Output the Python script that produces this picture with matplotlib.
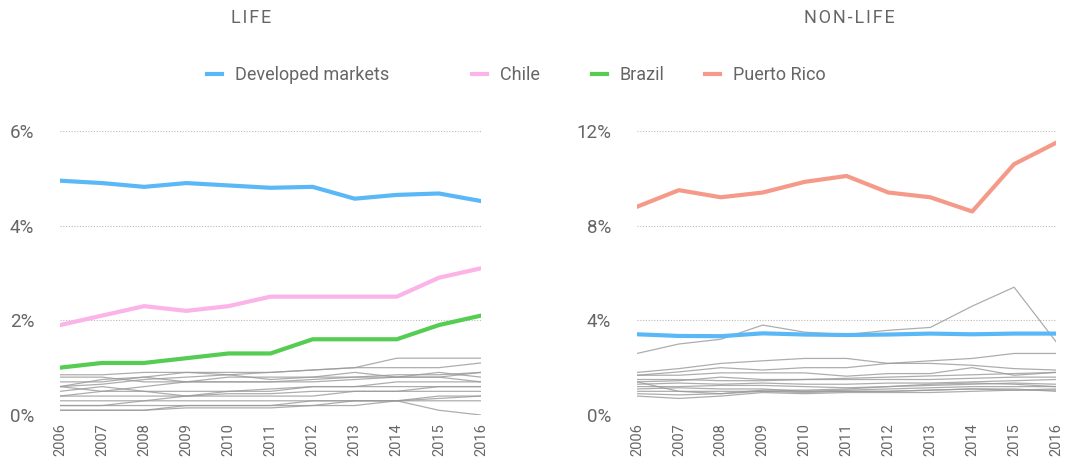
import matplotlib.pyplot as plt

plt.rcParams['font.family'] = ['Roboto', 'DejaVu Sans']

years = list(range(2006, 2017))

# life, % of GDP
developed_life = [4.95, 4.9, 4.82, 4.9, 4.85, 4.8, 4.82, 4.57, 4.65, 4.68, 4.52]
chile_life = [1.9, 2.1, 2.3, 2.2, 2.3, 2.5, 2.5, 2.5, 2.5, 2.9, 3.1]
brazil_life = [1.0, 1.1, 1.1, 1.2, 1.3, 1.3, 1.6, 1.6, 1.6, 1.9, 2.1]

other_life = [
    [0.85, 0.85, 0.9, 0.9, 0.9, 0.9, 0.95, 1.0, 1.2, 1.2, 1.2],
    [0.6, 0.65, 0.75, 0.8, 0.85, 0.9, 0.95, 1.0, 1.0, 1.0, 1.1],
    [0.6, 0.75, 0.8, 0.9, 0.85, 0.75, 0.8, 0.9, 0.8, 0.9, 0.8],
    [0.7, 0.7, 0.8, 0.7, 0.7, 0.7, 0.75, 0.8, 0.85, 0.85, 0.9],
    [0.8, 0.8, 0.7, 0.7, 0.8, 0.8, 0.8, 0.8, 0.8, 0.8, 0.7],
    [0.4, 0.5, 0.6, 0.7, 0.7, 0.7, 0.7, 0.75, 0.8, 0.8, 0.9],
    [0.5, 0.6, 0.5, 0.4, 0.5, 0.5, 0.6, 0.6, 0.7, 0.7, 0.7],
    [0.6, 0.5, 0.5, 0.5, 0.5, 0.55, 0.6, 0.6, 0.6, 0.6, 0.6],
    [0.3, 0.3, 0.3, 0.4, 0.4, 0.4, 0.4, 0.5, 0.5, 0.6, 0.6],
    [0.2, 0.2, 0.3, 0.3, 0.3, 0.3, 0.3, 0.3, 0.3, 0.4, 0.4],
    [0.2, 0.2, 0.2, 0.2, 0.2, 0.2, 0.3, 0.3, 0.3, 0.1, 0.0],
    [0.1, 0.1, 0.1, 0.2, 0.2, 0.2, 0.2, 0.3, 0.3, 0.3, 0.3],
    [0.1, 0.1, 0.1, 0.15, 0.15, 0.15, 0.2, 0.2, 0.3, 0.35, 0.4],
    [0.4, 0.4, 0.4, 0.4, 0.45, 0.45, 0.5, 0.5, 0.5, 0.5, 0.5],
]

# non-life, % of GDP
developed_nonlife = [3.41, 3.34, 3.33, 3.45, 3.4, 3.38, 3.4, 3.44, 3.41, 3.44, 3.44]
puerto_rico_nonlife = [8.8, 9.5, 9.2, 9.4, 9.85, 10.1, 9.4, 9.2, 8.6, 10.6, 11.5]

other_nonlife = [
    [2.6, 3.0, 3.2, 3.8, 3.5, 3.4, 3.58, 3.7, 4.6, 5.4, 3.1],
    [1.8, 1.96, 2.18, 2.29, 2.39, 2.39, 2.18, 2.29, 2.39, 2.6, 2.6],
    [1.68, 1.82, 2.0, 1.9, 2.0, 2.0, 2.18, 2.18, 2.1, 1.96, 1.9],
    [1.68, 1.68, 1.78, 1.78, 1.78, 1.64, 1.75, 1.75, 2.0, 1.68, 1.8],
    [1.4, 1.45, 1.6, 1.5, 1.5, 1.55, 1.6, 1.65, 1.7, 1.75, 1.8],
    [1.4, 1.0, 0.9, 1.05, 1.05, 1.1, 1.2, 1.3, 1.35, 1.3, 1.2],
    [1.3, 1.35, 1.3, 1.35, 1.3, 1.3, 1.35, 1.35, 1.4, 1.45, 1.5],
    [1.2, 1.2, 1.25, 1.25, 1.2, 1.15, 1.2, 1.25, 1.3, 1.35, 1.3],
    [1.1, 1.15, 1.1, 1.1, 1.0, 1.05, 1.1, 1.15, 1.2, 1.2, 1.2],
    [0.9, 0.85, 0.9, 1.0, 0.95, 1.0, 1.0, 1.05, 1.1, 1.1, 1.0],
    [0.8, 0.7, 0.8, 0.95, 0.9, 0.95, 0.95, 0.95, 1.0, 1.05, 1.05],
    [1.5, 1.5, 1.45, 1.45, 1.5, 1.5, 1.5, 1.5, 1.55, 1.6, 1.6],
    [1.0, 1.0, 1.0, 1.0, 1.0, 1.0, 1.0, 1.05, 1.1, 1.05, 1.1],
]

BLUE = '#5bb8f7'
PINK = '#fbb3e8'
GREEN = '#55cc52'
SALMON = '#f59a88'
GREY_TEXT = '#666666'

fig = plt.figure(figsize=(10.74, 4.57), dpi=100)
ax1 = fig.add_axes([60 / 1074, 1 - 415 / 457, 421 / 1074, 284 / 457])
ax2 = fig.add_axes([637 / 1074, 1 - 415 / 457, 419 / 1074, 284 / 457])


def style(ax, ymax, step):
    ax.set_xlim(2006, 2016)
    ax.set_ylim(0, ymax)
    ax.set_yticks(range(0, ymax + 1, step))
    ax.set_yticklabels([f'{v}%' for v in range(0, ymax + 1, step)])
    ax.set_xticks(years)
    ax.set_xticklabels([str(y) for y in years], rotation=90)
    for s in ax.spines.values():
        s.set_visible(False)
    ax.tick_params(length=0, colors=GREY_TEXT)
    ax.tick_params(axis='y', pad=18.5, labelsize=13.5)
    ax.tick_params(axis='x', pad=6, labelsize=10.5)
    ax.grid(axis='y', color='#bbbbbb', linestyle=(0, (1, 1.5)), linewidth=0.8)
    ax.set_axisbelow(True)


for vals in other_life:
    ax1.plot(years, vals, color='#999999', linewidth=0.9, alpha=0.8, zorder=2)
ax1.plot(years, developed_life, color=BLUE, linewidth=3, zorder=3)
ax1.plot(years, chile_life, color=PINK, linewidth=3, zorder=3)
ax1.plot(years, brazil_life, color=GREEN, linewidth=3, zorder=3)
style(ax1, 6, 2)

for vals in other_nonlife:
    ax2.plot(years, vals, color='#999999', linewidth=0.9, alpha=0.8, zorder=2)
ax2.plot(years, developed_nonlife, color=BLUE, linewidth=3, zorder=3)
ax2.plot(years, puerto_rico_nonlife, color=SALMON, linewidth=3, zorder=3)
style(ax2, 12, 4)

fig.text(251 / 1074, 1 - 18 / 457, 'L\u200aI\u200aF\u200aE', ha='center', va='center',
         fontsize=13, color=GREY_TEXT, family=['Roboto', 'DejaVu Sans'])
fig.text(849 / 1074, 1 - 18 / 457, 'N\u200aO\u200aN\u200a-\u200aL\u200aI\u200aF\u200aE',
         ha='center', va='center', fontsize=13, color=GREY_TEXT,
         family=['Roboto', 'DejaVu Sans'])

# one legend entry per series, placed where the reference puts them
labels = ['Developed markets', 'Chile', 'Brazil', 'Puerto Rico']
colors = [BLUE, PINK, GREEN, SALMON]
starts = [207, 472, 592, 705]
for lab, col, x0 in zip(labels, colors, starts):
    leg = fig.legend([plt.Line2D([], [], color=col, linewidth=3)], [lab],
                     loc='center left', bbox_to_anchor=(x0 / 1074, 1 - 75 / 457),
                     frameon=False, fontsize=13, handlelength=0.85,
                     handletextpad=0.7, borderpad=0, borderaxespad=0)
    leg.get_texts()[0].set_color(GREY_TEXT)

plt.savefig('out.png', dpi=100)
